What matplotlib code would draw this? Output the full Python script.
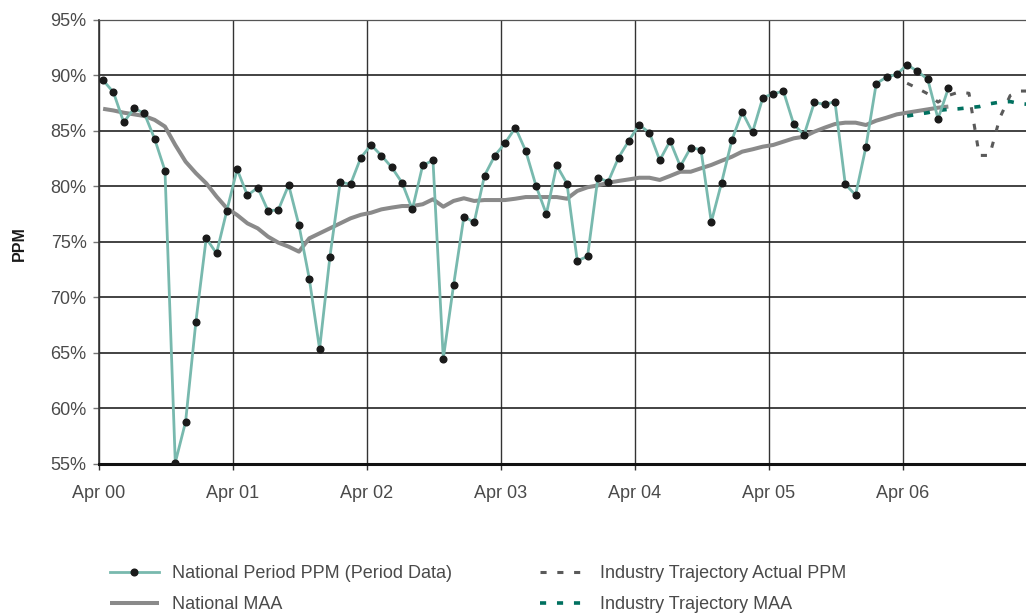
import matplotlib
matplotlib.use("Agg")
import matplotlib.pyplot as plt
import numpy as np

plt.rcParams["font.family"] = ["Liberation Sans", "DejaVu Sans"]

# National period PPM, 13 periods a year starting Apr 00 (percent)
national_ppm = [
    89.57, 88.49, 85.78, 87.04, 86.59, 84.28, 81.43, 55.12, 58.8, 67.82,
    75.33, 73.98, 77.82, 81.55, 79.2, 79.9, 77.8, 77.9, 80.14, 76.5,
    71.7, 65.36, 73.65, 80.4, 80.2, 82.6, 83.74, 82.78, 81.73, 80.34,
    77.94, 81.9, 82.36, 64.49, 71.13, 77.28, 76.77, 80.98, 82.78, 83.92,
    85.3, 83.2, 80.05, 77.52, 81.9, 80.26, 73.3, 73.71, 80.79, 80.43,
    82.6, 84.12, 85.55, 84.85, 82.36, 84.1, 81.82, 83.5, 83.32, 76.8,
    80.34, 84.19, 86.71, 84.88, 88.0, 88.36, 88.58, 85.6, 84.64, 87.58,
    87.4, 87.64, 80.2, 79.23, 83.56, 89.26, 89.86, 90.1, 90.97, 90.38,
    89.66, 86.1, 88.85,
]

national_maa = [
    87.0, 86.85, 86.65, 86.5, 86.35, 86.0, 85.4, 83.74, 82.24, 81.2,
    80.29, 79.1, 78.04, 77.43, 76.68, 76.23, 75.48, 74.94, 74.58, 74.13,
    75.33, 75.78, 76.23, 76.68, 77.13, 77.45, 77.64, 77.94, 78.1, 78.24,
    78.24, 78.4, 78.85, 78.18, 78.7, 78.94, 78.7, 78.78, 78.78, 78.78,
    78.9, 79.05, 79.05, 79.05, 79.05, 78.9, 79.6, 79.93, 80.1, 80.34,
    80.5, 80.64, 80.79, 80.79, 80.59, 80.95, 81.33, 81.33, 81.64, 81.94,
    82.32, 82.68, 83.14, 83.35, 83.59, 83.74, 84.04, 84.34, 84.49, 84.94,
    85.3, 85.63, 85.75, 85.75, 85.54, 85.93, 86.2, 86.5, 86.65, 86.8,
    86.95, 87.1, 87.2,
]

# Industry trajectory, starts at period 79 (Apr 06)
industry_start = 78
industry_actual = [89.3, 88.85, 88.35, 87.6, 88.2, 88.5, 88.4, 82.8, 82.8, 86.2, 88.2, 88.6, 88.6]
industry_maa = [86.35, 86.5, 86.65, 86.85, 86.95, 87.0, 87.1, 87.2, 87.45, 87.6, 87.65, 87.45, 87.4]

year_labels = ["Apr 00", "Apr 01", "Apr 02", "Apr 03", "Apr 04", "Apr 05", "Apr 06"]
periods_per_year = 13

x_nat = np.arange(len(national_ppm)) + 0.4
x_ind = np.arange(len(industry_actual)) + industry_start + 0.4

W, H = 1026, 615
fig = plt.figure(figsize=(W / 100, H / 100), dpi=100)
ax = fig.add_axes([99 / W, 1 - 464 / H, (W - 99) / W, (464 - 20) / H])

teal = "#78b9ae"
gray = "#8a8a8a"
dark_gray = "#5a5a5a"
dark_teal = "#00705f"
text_col = "#4a4a4a"

ax.plot(x_nat, national_maa, color=gray, lw=2.9, solid_capstyle="butt", zorder=3,
        label="National MAA")
ax.plot(x_ind, industry_actual, color=dark_gray, lw=2.2, linestyle=(0, (2.0, 3.5)),
        zorder=4, label="Industry Trajectory Actual PPM")
ax.plot(x_ind, industry_maa, color=dark_teal, lw=2.6, linestyle=(0, (1.7, 3.0)),
        zorder=4, label="Industry Trajectory MAA")
ax.plot(x_nat, national_ppm, color=teal, lw=2.0, marker="o", markersize=4.8,
        markerfacecolor="#1a1a1a", markeredgecolor="#1a1a1a", zorder=5,
        label="National Period PPM (Period Data)")

ax.set_xlim(0, (W - 99) / (134 / periods_per_year))
ax.set_ylim(55, 95)

ax.set_xticks(np.arange(len(year_labels)) * periods_per_year)
ax.set_xticklabels(year_labels)
ax.set_yticks(np.arange(55, 96, 5))
ax.set_yticklabels([f"{v}%" for v in range(55, 96, 5)])

ax.grid(True, axis="y", color="#222222", lw=1.2, zorder=1)
ax.grid(True, axis="x", color="#333333", lw=1.0, zorder=1)

ax.tick_params(axis="y", length=4, width=1, color="#777777", pad=5,
               labelsize=13, labelcolor=text_col)
ax.tick_params(axis="x", length=4, width=1, color="#333333", pad=11,
               labelsize=13, labelcolor=text_col)

ax.spines["right"].set_visible(False)
ax.spines["top"].set_color("#555555")
ax.spines["top"].set_linewidth(0.9)
ax.spines["left"].set_color("#333333")
ax.spines["left"].set_linewidth(1.2)
ax.spines["bottom"].set_color("#111111")
ax.spines["bottom"].set_linewidth(2.2)

fig.text(19 / W, 1 - 244 / H, "PPM", rotation=90, fontsize=11.5, fontweight="bold",
         color="#1a1a1a", ha="center", va="center")

handles, labels = ax.get_legend_handles_labels()
h = dict(zip(labels, handles))
col1 = ["National Period PPM (Period Data)", "National MAA"]
col2 = ["Industry Trajectory Actual PPM", "Industry Trajectory MAA"]

leg_top = 1 - 565 / H
leg1 = fig.legend([h[k] for k in col1], col1, loc="upper left",
                  bbox_to_anchor=(110 / W, leg_top), frameon=False,
                  borderpad=0, borderaxespad=0, handlelength=2.7,
                  handletextpad=0.75, labelspacing=0.78, fontsize=13, numpoints=1)
leg2 = fig.legend([h[k] for k in col2], col2, loc="upper left",
                  bbox_to_anchor=(540 / W, leg_top), frameon=False,
                  borderpad=0, borderaxespad=0, handlelength=2.3,
                  handletextpad=1.0, labelspacing=0.78, fontsize=13)
for leg in (leg1, leg2):
    for t in leg.get_texts():
        t.set_color(text_col)

fig.savefig("out.png", dpi=100)
